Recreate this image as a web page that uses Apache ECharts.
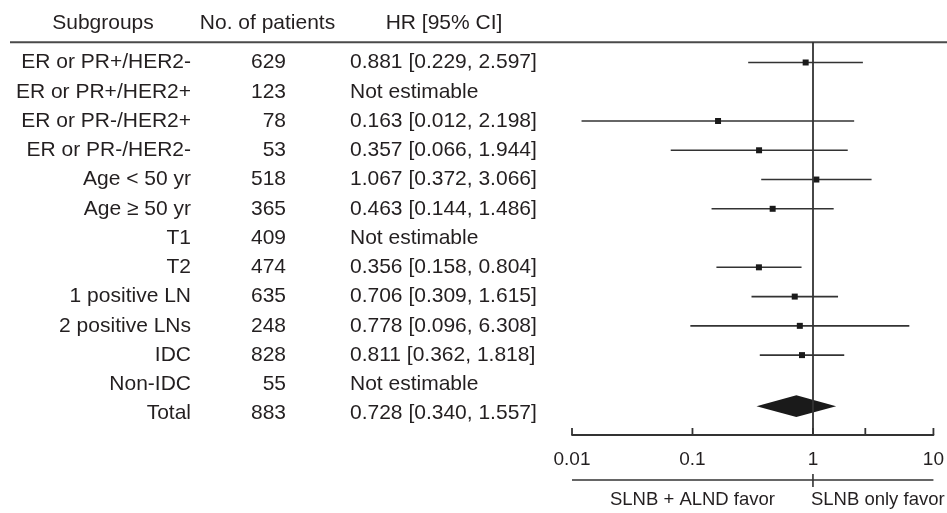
<!DOCTYPE html>
<html>
<head>
<meta charset="utf-8">
<script src="https://cdn.jsdelivr.net/npm/echarts@6/dist/echarts.min.js"></script>
<style>
  html, body { margin: 0; padding: 0; background: #fff; }
  #chart { width: 947px; height: 513px; }
</style>
</head>
<body>
<div id="chart"></div>
<script>
// rows of the table, top to bottom
const subgroups = [
  'ER or PR+/HER2-', 'ER or PR+/HER2+', 'ER or PR-/HER2+', 'ER or PR-/HER2-',
  'Age < 50 yr', 'Age \u2265 50 yr', 'T1', 'T2', '1 positive LN', '2 positive LNs',
  'IDC', 'Non-IDC', 'Total'
]
const patients = [629, 123, 78, 53, 518, 365, 409, 474, 635, 248, 828, 55, 883]
const hrLabels = [
  '0.881 [0.229, 2.597]', 'Not estimable', '0.163 [0.012, 2.198]', '0.357 [0.066, 1.944]',
  '1.067 [0.372, 3.066]', '0.463 [0.144, 1.486]', 'Not estimable', '0.356 [0.158, 0.804]',
  '0.706 [0.309, 1.615]', '0.778 [0.096, 6.308]', '0.811 [0.362, 1.818]', 'Not estimable',
  '0.728 [0.340, 1.557]'
]
// values as drawn in the plot (null = not estimable)
const hr = [0.87, null, 0.163, 0.357, 1.067, 0.463, null, 0.356, 0.706, 0.778, 0.811, null, 0.728]
const lower = [0.29, null, 0.012, 0.066, 0.372, 0.144, null, 0.158, 0.309, 0.096, 0.362, null, 0.340]
const upper = [2.597, null, 2.198, 1.944, 3.066, 1.486, null, 0.804, 1.615, 6.308, 1.818, null, 1.557]
const tickValues = [0.01, 0.1, 1, 2.72, 10]
const favorLabels = ['SLNB + ALND favor', 'SLNB only favor']
const favorAnchors = [0.1, 1]

const totalIndex = subgroups.length - 1
const yMin = -0.7
const yMax = 12.73
const textColor = '#231f20'
const lineColor = '#333'
const font = 'Liberation Sans, Arial, sans-serif'

const chart = echarts.init(document.getElementById('chart'))

const ciData = []
hr.forEach((v, i) => {
  if (v !== null && i !== totalIndex) ciData.push([lower[i], upper[i], v, i])
})

const option = {
  animation: false,
  grid: { left: 572, right: 11, top: 42, bottom: 78 },
  xAxis: {
    type: 'log',
    logBase: 10,
    min: 0.01,
    max: 10,
    axisLine: { show: true, onZero: false, lineStyle: { color: lineColor, width: 1.8 } },
    axisTick: { show: false },
    splitLine: { show: false },
    axisLabel: {
      fontSize: 19,
      fontFamily: font,
      color: textColor,
      margin: 15,
      formatter: v => String(+(+v).toPrecision(2))
    }
  },
  yAxis: {
    type: 'value',
    inverse: true,
    min: yMin,
    max: yMax,
    show: false
  },
  graphic: [
    { type: 'text', style: { text: 'Subgroups', x: 103, y: 23, align: 'center', verticalAlign: 'middle', font: '21px ' + font, fill: textColor } },
    { type: 'text', style: { text: 'No. of patients', x: 267.5, y: 23, align: 'center', verticalAlign: 'middle', font: '21px ' + font, fill: textColor } },
    { type: 'text', style: { text: 'HR [95% CI]', x: 444, y: 23, align: 'center', verticalAlign: 'middle', font: '21px ' + font, fill: textColor } },
    { type: 'line', shape: { x1: 10, y1: 42.3, x2: 947, y2: 42.3 }, style: { stroke: '#4a4a4a', lineWidth: 2 } }
  ],
  series: [
    { // table text
      type: 'custom',
      clip: false,
      silent: true,
      data: subgroups.map((s, i) => [1, i]),
      renderItem (params, api) {
        const i = api.value(1)
        const y = api.coord([1, i])[1]
        const f = '21px ' + font
        return {
          type: 'group',
          children: [
            { type: 'text', style: { text: subgroups[i], x: 191, y: y, align: 'right', verticalAlign: 'middle', font: f, fill: textColor } },
            { type: 'text', style: { text: String(patients[i]), x: 286, y: y, align: 'right', verticalAlign: 'middle', font: f, fill: textColor } },
            { type: 'text', style: { text: hrLabels[i], x: 350, y: y, align: 'left', verticalAlign: 'middle', font: f, fill: textColor } }
          ]
        }
      }
    },
    { // confidence intervals + point estimates
      type: 'custom',
      silent: true,
      clip: false,
      data: ciData,
      encode: { x: [0, 1, 2], y: 3 },
      renderItem (params, api) {
        const i = api.value(3)
        const a = api.coord([api.value(0), i])
        const b = api.coord([api.value(1), i])
        const c = api.coord([api.value(2), i])
        return {
          type: 'group',
          children: [
            { type: 'line', shape: { x1: a[0], y1: a[1], x2: b[0], y2: b[1] }, style: { stroke: lineColor, lineWidth: 1.6 } },
            { type: 'rect', shape: { x: c[0] - 3, y: c[1] - 3, width: 6, height: 6 }, style: { fill: '#1a1a1a' } }
          ]
        }
      },
      markLine: {
        silent: true,
        symbol: 'none',
        label: { show: false },
        lineStyle: { color: lineColor, width: 1.8, type: 'solid' },
        data: [{ xAxis: 1 }]
      }
    },
    { // total diamond
      type: 'custom',
      silent: true,
      data: [[lower[totalIndex], upper[totalIndex], hr[totalIndex], totalIndex]],
      encode: { x: [0, 1, 2], y: 3 },
      renderItem (params, api) {
        const i = api.value(3)
        const a = api.coord([api.value(0), i])
        const b = api.coord([api.value(1), i])
        const c = api.coord([api.value(2), i])
        const y = c[1] - 7.5
        const h = 10.8
        return {
          type: 'polygon',
          shape: { points: [[a[0], y], [c[0], y - h], [b[0], y], [c[0], y + h]] },
          style: { fill: '#1a1a1a' }
        }
      }
    },
    { // axis ticks pointing up
      type: 'custom',
      silent: true,
      clip: false,
      data: tickValues.map(v => [v, yMax]),
      renderItem (params, api) {
        const p = api.coord([api.value(0), api.value(1)])
        return { type: 'line', shape: { x1: p[0], y1: p[1], x2: p[0], y2: p[1] - 7 }, style: { stroke: lineColor, lineWidth: 1.8 } }
      }
    },
    { // favour line and labels below the axis
      type: 'custom',
      silent: true,
      clip: false,
      data: [[1, yMax]],
      renderItem (params, api) {
        const l = api.coord([0.01, yMax])
        const r = api.coord([10, yMax])
        const m = api.coord([favorAnchors[1], yMax])
        const q = api.coord([favorAnchors[0], yMax])
        const y = l[1] + 45
        const f = '18.5px ' + font
        return {
          type: 'group',
          children: [
            { type: 'line', shape: { x1: l[0], y1: y, x2: r[0], y2: y }, style: { stroke: lineColor, lineWidth: 1.6 } },
            { type: 'line', shape: { x1: m[0], y1: y - 6, x2: m[0], y2: y + 7 }, style: { stroke: lineColor, lineWidth: 1.6 } },
            { type: 'text', style: { text: favorLabels[0], x: q[0], y: y + 20, align: 'center', verticalAlign: 'middle', font: f, fill: textColor } },
            { type: 'text', style: { text: favorLabels[1], x: m[0] - 2, y: y + 20, align: 'left', verticalAlign: 'middle', font: f, fill: textColor } }
          ]
        }
      }
    }
  ]
}

chart.setOption(option)
window.addEventListener('resize', () => chart.resize())
</script>
</body>
</html>
